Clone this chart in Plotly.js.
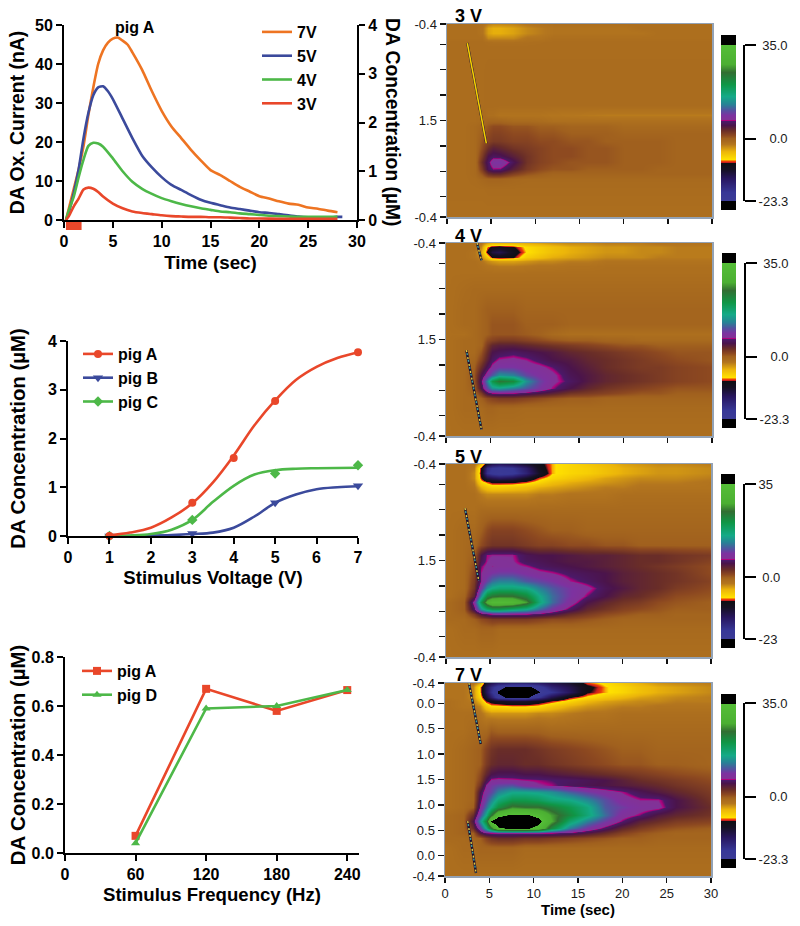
<!DOCTYPE html>
<html><head><meta charset="utf-8">
<script src="https://cdn.plot.ly/plotly-3.0.1.min.js"></script>
<style>html,body{margin:0;padding:0;background:#fff}</style></head>
<body><div id="chart" style="width:800px;height:926px"></div>
<script>
// ---- Time-course traces (top left panel)
const time7V=[0.2,0.5,1,1.5,2,2.5,3,3.5,4,4.5,5,5.5,6,6.5,7,8,9,10,11,12,13,14,15,16,17,18,19,20,21,22,23,24,25,26,27,28];
const current7V=[0,3,8,13,19,27,34,40,43.5,45.5,46.5,46.8,46,45,43,38.5,33,28,24,21,18,15.3,12.8,11.5,10,8.5,7.3,6.1,5.5,4.8,4.2,3.9,3.2,2.9,2.4,2];
const time5V=[0.2,0.5,1,1.5,2,2.5,3,3.5,4,4.5,5,6,7,8,9,10,11,12,13,14,15,16,17,18,19,20,21,22,23,24,25,26,27,28,28.5];
const current5V=[0,2,7,13,21,27.5,32,34,34.3,33,31,26,21,16.5,13.5,11,9,7.7,6.4,5.2,4.4,3.8,3.2,2.8,2.4,2,1.8,1.5,1.2,0.9,0.7,0.6,0.6,0.8,0.8];
const time4V=[0.2,0.5,1,1.5,2,2.5,3,3.5,4,5,6,7,8,9,10,11,12,13,14,15,16,17,18,19,20,21,22,23,24,25,26,27,28];
const current4V=[0,2.5,6,11,15.5,19,19.8,19.6,18.8,15.8,12.5,9.8,8,6.7,5.6,4.8,4.1,3.5,3,2.6,2.2,2,1.7,1.5,1.3,1.1,1,0.9,0.8,0.8,0.8,0.8,0.9];
const time3V=[0.2,0.5,1,1.5,2,2.5,3,3.5,4,5,6,7,8,9,10,11,12,13,14,15,16,17,18,19,20,22,24,26,28];
const current3V=[0,1,3.5,5.5,7.8,8.3,8,7.2,6,4.2,3,2.2,1.8,1.5,1.2,1,0.9,0.8,0.8,0.7,0.7,0.6,0.5,0.4,0.4,0.3,0.3,0.3,0.3];
const stimTime=[0.2,1.8];
const stimLevel=[0.5,0.5];

// ---- Stimulus voltage panel
const voltPointsA=[1,3,4,5,7]; const concPointsA=[0,0.68,1.6,2.77,3.77];
const voltPoints=[1,3,5,7];
const concPointsB=[0,0.05,0.68,1.03];
const concPointsC=[0,0.33,1.28,1.45];
const fitVoltA=[1,1.5,2,2.5,3,3.5,4,4.5,5,5.5,6,6.5,7];
const fitConcA=[0.01,0.07,0.17,0.38,0.67,1.1,1.65,2.27,2.78,3.2,3.47,3.65,3.77];
const fitVoltB=[1,2,2.5,3,3.5,4,4.5,5,5.5,6,6.5,7];
const fitConcB=[0,0.01,0.02,0.04,0.07,0.17,0.4,0.68,0.85,0.96,1,1.02];
const fitVoltC=[1,1.5,2,2.5,3,3.5,4,4.5,5,5.5,6,7];
const fitConcC=[0,0.01,0.04,0.13,0.33,0.7,1.03,1.26,1.35,1.38,1.39,1.4];

// ---- Stimulus frequency panel
const freqHz=[60,120,180,240];
const freqConcA=[0.07,0.67,0.58,0.665];
const freqConcD=[0.04,0.59,0.6,0.665];

// ---- Colour plots: time columns, sweep rows, current values
const plotTimes=[0.3,2,3.2,4,4.6,5.2,6,7.5,9,10.5,12,14,16,18,20,22,24,26,30];
const sweepRows=[0,0.08,0.18,0.28,0.36,0.45,0.6,0.9,1.3,1.6,1.8,1.9,2,2.15,2.3,2.45,2.6,2.72,2.85,2.95,3.05,3.25,3.8];
const sweepTicks=[0,0.4,0.9,1.4,1.9,2.4,2.9,3.4,3.8];
const sweepLabels=['-0.4','0.0','0.5','1.0','1.5','1.0','0.5','0.0','-0.4'];
const sparseLabels=['-0.4','','','','1.5','','','','-0.4'];
const timeTicks=[0,5,10,15,20,25,30];

const z3V=[
[-1.5,-1.5,-1.5,-1.7,-2.6,-3,-3,-2.8,-2.2,-1.8,-1.6,-1.5,-1.5,-1.5,-1.5,-1.5,-1.5,-1.5,-1.5],
[-1.5,-1.5,-1.5,-2,-4,-4.5,-4.5,-4,-3,-2.5,-2,-2,-2,-2,-2,-1.5,-1.5,-1.5,-1.5],
[-1.5,-1.5,-1.5,-2,-4,-4.5,-4.5,-4,-3,-2.5,-2,-2,-2,-2,-2,-2,-1.5,-1.5,-1.5],
[-1.5,-1.5,-1.5,-1.5,-3,-3,-3,-3,-2,-2,-1.5,-1.5,-1.5,-1.5,-1.5,-1.5,-1.5,-1.5,-1.5],
[-1.3,-1.3,-1.3,-1.3,-1.5,-1.6,-1.6,-1.6,-1.5,-1.4,-1.3,-1.3,-1.3,-1.3,-1.3,-1.3,-1.3,-1.3,-1.3],
[-1.3,-1.3,-1.3,-1.3,-1.3,-1.3,-1.3,-1.3,-1.3,-1.3,-1.3,-1.3,-1.3,-1.3,-1.3,-1.3,-1.3,-1.3,-1.3],
[-1.3,-1.3,-1.3,-1.3,-1.3,-1.3,-1.3,-1.3,-1.3,-1.3,-1.3,-1.3,-1.3,-1.3,-1.3,-1.3,-1.3,-1.3,-1.3],
[-1.3,-1.3,-1.3,-1.3,-1.2,-1.2,-1.2,-1.2,-1.2,-1.2,-1.2,-1.2,-1.2,-1.2,-1.2,-1.2,-1.2,-1.2,-1.2],
[-1.3,-1.3,-1.3,-1.3,-1.2,-1.2,-1.2,-1.2,-1.2,-1.2,-1.2,-1.2,-1.2,-1.2,-1.2,-1.2,-1.2,-1.2,-1.2],
[-1.3,-1.3,-1.3,-1.3,-1.2,-1.2,-1.2,-1.2,-1.2,-1.2,-1.2,-1.2,-1.2,-1.2,-1.2,-1.2,-1.2,-1.2,-1.2],
[-1.3,-1.3,-1.3,-1,-1.5,-1.5,-2,-2,-2,-2,-2.2,-2.3,-2.4,-2.5,-2.5,-2.5,-2.5,-2.5,-2.5],
[-1.3,-1.3,-1.3,-1,-0.5,-0.5,-0.5,-1,-1,-1.2,-1.5,-1.5,-1.5,-1.5,-1.5,-1.5,-1.5,-1.5,-1.5],
[-1.3,-1.3,-1,-0.5,0.5,1,1,0.5,0.5,0,0,-0.5,-0.5,-0.5,-1,-1,-1,-1,-1],
[-1.3,-1.3,-1,0,1,1.5,1.5,1,1,0.5,0.5,0,0,0,-0.5,-0.5,-0.5,-0.5,-0.5],
[-1.3,-1.3,-1,0.5,1.5,2,2,1.5,1.5,1,1,0.5,0.5,0,0,0,0,-0.5,-0.5],
[-1.3,-1.3,-1,1,3,4,3.5,2.5,2,1.5,1,1,0.5,0.5,0,0,0,-0.5,-0.5],
[-1.3,-1.3,-1,2,5,5.8,5.5,4,2.5,1.5,1,1,0.5,0.5,0,0,0,-0.5,-0.5],
[-1.3,-1.3,-1,3,6,8.5,9,5.5,2.5,1.5,1,0.5,0.5,0.5,0,0,0,-0.5,-0.5],
[-1.3,-1.3,-1,2,5.5,6.6,6.5,4,2,1,0.5,0.5,0,0,0,0,-0.5,-0.5,-0.5],
[-1.3,-1.3,-1,0.5,2.5,3,3,1.5,0.5,0,-0.5,-0.5,-0.5,-0.5,-0.5,-0.5,-0.5,-0.5,-0.5],
[-1.3,-1.3,-1.2,-0.8,-0.5,-0.5,-0.5,-0.8,-1,-1,-1,-1,-1,-1,-1,-1,-1,-1,-1],
[-1.3,-1.3,-1.3,-1.3,-1.2,-1.2,-1.2,-1.2,-1.2,-1.2,-1.2,-1.2,-1.2,-1.2,-1.2,-1.2,-1.2,-1.2,-1.2],
[-1.5,-1.5,-1.5,-1.5,-1.5,-1.5,-1.5,-1.5,-1.5,-1.5,-1.5,-1.5,-1.5,-1.5,-1.5,-1.5,-1.5,-1.5,-1.5]];

const z4V=[
[-1.5,-1.5,-1.5,-2,-4,-5,-5,-5,-4.5,-4,-3.5,-3,-3,-2.5,-2.5,-2.5,-2,-2,-2],
[-1.5,-1.5,-1.5,-3,-8,-10,-10.5,-9.4,-7.5,-6.5,-5.5,-4.5,-4,-3.5,-3.5,-3,-3,-2.5,-2.5],
[-1.5,-1.5,-2,-4,-9.5,-13,-14,-10.5,-7.8,-6.5,-5.5,-4.5,-4,-3.5,-3.5,-3,-3,-2.5,-2.5],
[-1.5,-1.5,-2,-3,-6,-9.5,-10,-9.4,-6.5,-5.5,-4.5,-4,-3.5,-3,-3,-3,-2.5,-2.5,-2.5],
[-1.5,-1.5,-1.5,-2,-3,-3.5,-4,-4,-3.5,-3,-3,-2.5,-2.5,-2,-2,-2,-2,-2,-2],
[-1.5,-1.5,-1.5,-1.7,-2,-2.2,-2.4,-2.4,-2.2,-2,-2,-1.8,-1.8,-1.6,-1.6,-1.6,-1.6,-1.6,-1.6],
[-1.5,-1.5,-1.5,-1.5,-1.5,-1.5,-1.5,-1.5,-1.5,-1.5,-1.5,-1.5,-1.5,-1.5,-1.5,-1.5,-1.5,-1.5,-1.5],
[-1.5,-1.2,-1,-1,-1,-1,-1,-1,-1,-1,-1,-1,-1,-1,-1,-1,-1,-1,-1],
[-1.5,-1,-1,-0.5,0,0,0,0,-0.5,-0.5,-0.5,-0.5,-0.5,-0.5,-0.5,-0.5,-0.5,-0.5,-0.5],
[-1.5,-1,-1,-0.5,0,0.5,0.5,0.5,0,0,0,-0.5,-0.5,-0.5,-0.5,-0.5,-0.5,-0.5,-0.5],
[-1.5,-1.5,-1,-0.5,0,0.5,0.5,0.5,0.2,-0.2,-1,-1.5,-1.5,-1.5,-1.5,-1.5,-1.5,-1.5,-1.5],
[-1.5,-1,-1,-0.5,1,1.5,2,2,1.5,1,0.5,0,0,-0.5,-0.5,-1,-1,-1,-1],
[-1.5,-1,-1,-0.5,2,3.5,4,4,3.5,3,2.5,2,1.5,1,0.5,0.5,0,0,0],
[-1.5,-1,-1,0.5,3,5,5.5,6,5.5,5,4.5,3.5,3,2.5,2,1.5,1,0.5,0.5],
[-1.5,-1,-0.5,1.5,4,6,7.2,7.5,7,6,5,4.5,3.5,3,2.5,2,1.5,1,0.5],
[-1.5,-1,0,3,5.5,7.5,9,9,8,7.5,6.5,5,4,3,2.5,2,2,1.5,1],
[-1.5,-1,0.5,5,8,11,14,13,10,8.5,7.5,5.5,4.5,3.5,3,2.5,2,1.5,1],
[-1.5,-1,0.5,6,13,20,24,22,14,10,7.5,6,4.5,3.5,3,2.5,2,1.5,1],
[-1.5,-1,0,5,10,14,15,13,11,9,6.8,5,3.5,2.5,2,1.5,1,0.5,0.5],
[-1.5,-1,-0.5,2,5.5,6.8,7,6.9,6,5,4,2.5,2,1.5,1,0.5,0.5,0,0],
[-1.5,-1,-1,0,1,1.5,2,2,1.5,1,0.5,0,0,-0.5,-0.5,-0.5,-0.5,-0.5,-0.5],
[-1.5,-1,-1,-1,-0.5,-0.5,-0.8,-0.8,-1,-1,-1,-1,-1,-1,-1,-1,-1,-1,-1],
[-1.5,-1.5,-1.5,-1.5,-1.5,-1.5,-1.5,-1.5,-1.5,-1.5,-1.5,-1.5,-1.5,-1.5,-1.5,-1.5,-1.5,-1.5,-1.5]];

const z5V=[
[-1.5,-1.5,-2,-5,-12,-14,-15,-14,-12,-10,-8,-7,-6,-5,-4,-3.5,-3,-3,-2.5],
[-1.5,-1.5,-2.5,-9.5,-18,-20,-21,-20,-16,-10.5,-8,-7,-6.5,-5.5,-4.5,-4,-3.5,-3.5,-3],
[-1.5,-1.5,-3,-10,-19,-21,-22,-21,-17,-11.5,-8,-7,-6.5,-5.5,-4.5,-4,-3.5,-3.5,-3],
[-1.5,-1.5,-3,-9,-13,-14,-15,-14,-11.5,-8.5,-7,-6,-5,-4,-3.5,-3,-3,-3,-2.5],
[-1.5,-1.5,-2.5,-7,-8.5,-9.5,-9.5,-9.5,-8.5,-7,-5.5,-4.5,-4,-3.5,-3,-2.5,-2.5,-2.5,-2],
[-1.5,-1.5,-2,-4.5,-6,-6.5,-6.5,-6,-5.5,-4.5,-4,-3.5,-3,-2.5,-2.5,-2,-2,-2,-2],
[-1.5,-1.5,-1.5,-2.5,-3,-3,-3,-3,-3,-2.5,-2.5,-2,-2,-2,-1.5,-1.5,-1.5,-1.5,-1.5],
[-1.5,-1.5,-1.5,-1,-1,-1,-1,-1,-1,-1,-1,-1,-1,-1,-1,-1,-1,-1,-1],
[-1.5,-1,-1,0,1,1.5,1.5,1.5,1,0.5,0,0,-0.5,-0.5,-0.5,-0.5,-0.5,-0.5,-0.5],
[-1.5,-1,-0.5,1,2,2.5,2.5,2.5,2,1.5,1.5,1,1,0.5,0.5,0,0,0,0],
[-1.5,-1,0,5,6.8,7,7,7,5.5,5,5,4.5,4,4,3.5,3,3,2.5,2],
[-1.5,-1,0.5,5.5,7,7.5,7.5,7.2,5.8,5.5,5,4.5,4.5,4,3.5,3,3,2.5,1.5],
[-1.5,-1,1,6.5,7.5,7,7.5,7.5,6.9,6,5.5,5,4.5,4,3.5,3,2.5,2,1],
[-1.5,-1,1.5,7,8,9,9.5,9.5,8.5,7.5,7,6,5.5,5,4,3.5,3,2.5,1],
[-1.5,-1,2,7,10,12,13,13,11,10,9,7,6,5,4,3.5,3,2.5,1.5],
[-1.5,-1,2.5,9,14,16,17,17,16,13,11,9,7.5,5.5,4.5,3.5,3,2,1],
[-1.5,-0.5,4,14,22,24,25,25,22,16,12,9,6.5,5,3.5,3,2,1,0.5],
[-1,0,8,20,29,33,33,32,27,17,12,8,5,3.5,2.5,2,1,0.5,0],
[-1,0,6,14,18,20,20,18,16,12,9,6,3.5,2.5,1.5,1,0.5,0,0],
[-1,-0.5,2,5,6.5,7,7.2,7,6.9,6,5,3,2,1,0.5,0,0,-0.5,-0.5],
[-1,-1,0,1,1.5,2,2,2,2,1.5,1,1,0.5,0,-0.5,-0.5,-0.5,-0.5,-0.5],
[-1.5,-1,-1,-0.5,-0.5,-0.5,-1,-1,-1,-1,-1,-1,-1,-1,-1,-1,-1,-1,-1],
[-1.5,-1.5,-1.5,-1.5,-1.5,-1.5,-1.5,-1.5,-1.5,-1.5,-1.5,-1.5,-1.5,-1.5,-1.5,-1.5,-1.5,-1.5,-1.5]];

const z7V=[
[-2,-2,-2,-4,-12,-14,-16,-17,-17,-16,-14,-12,-8.5,-7.5,-6,-4.5,-3.5,-3,-2.5],
[-2,-2,-3,-8,-14,-18,-22,-25,-25,-22,-17,-14,-10,-8,-7,-5.5,-4.5,-4,-3],
[-2,-2,-3,-8,-14,-19,-24,-27,-27,-24,-20,-15,-9.5,-8,-7,-5.5,-4.5,-4,-3],
[-2,-2,-3,-7,-12,-16,-22,-25,-25,-20,-14,-9.5,-7.5,-6,-5,-4,-3.5,-3,-2.5],
[-1.5,-2,-2.5,-5,-9,-10,-11,-12,-12,-10.5,-9,-7,-5,-4,-3.5,-3,-3,-2.5,-2.5],
[-1.5,-2,-2,-3,-6,-7.5,-7.5,-8,-8,-7.5,-6,-4.5,-3.5,-3,-2.5,-2.5,-2,-2,-2],
[-1.5,-1.5,-1.5,-2,-3,-3.5,-3.5,-3.5,-3.5,-3,-3,-2.5,-2,-2,-1.5,-1.5,-1.5,-1.5,-1.5],
[-1.5,-1.5,-1,-1,-1,0,-0.5,-0.5,-0.5,-0.5,-1,-1,-1,-1,-1,-1,-1,-1,-1],
[-1.5,-1,-0.5,0,1.5,2.5,3,3,3,2.5,2,1.5,1,0.5,0,0,-0.5,-0.5,-0.5],
[-1.5,-1,-0.5,0,2,3,3.5,3.5,3,3,2.5,2,1.5,1,0.5,0.5,0,0,-0.5],
[-1.5,-1,-0.5,1,3.5,5,5.5,5.5,5,5,4.5,4,3.5,3,2.5,2,1.5,1,0.5],
[-1.5,-1,-0.5,1.5,5,7.2,7.4,7.2,6.9,6.7,6.4,6,5.5,5,4,3,2.5,2,1],
[-1.5,-1,-0.5,2.5,7,9,10,10.5,8.2,7.2,6.8,5.8,5.3,4.8,4.3,3.8,3.2,2.5,1.5],
[-1.5,-1,-0.5,5,8.5,10,13,15.5,15.5,15,14,11.5,9.5,8,6.9,5.5,4.5,3.5,2],
[-1.5,-1,-0.5,6,10,13,17,20,20,19,17,16,13.5,10.5,8,7,7,5,2.5],
[-1.5,-1,0,7.2,12,16,21,26,25,25,23,20,16.5,11,9.5,8,7.5,5,3],
[-1,-0.5,3,10,16,24,33,36,36,33,27,22,17,12,8,6.5,4.5,3.5,2.5],
[-1,-0.5,5,14,22,36,40,40,40,37,28,18,13,9.5,6.5,4,3,2,1.5],
[-1,-0.5,3,9,16,24,34,36,36,33,22,13,9,6,3.5,2,1,0.5,0],
[-1,-0.5,0,4.5,6.5,6.8,7,7,7,7,6.8,6,4.5,3,1.5,0.5,0,-0.5,-0.5],
[-1,-1,-0.5,0,1.5,2.5,3,3,2.5,2.5,2,1.5,1,0.5,0,0,-0.5,-0.5,-0.5],
[-1.5,-1,-1,-0.5,-0.5,-0.5,-0.5,-0.5,-1,-1,-1,-1,-1,-1,-1,-1,-1,-1,-1],
[-1.5,-1.5,-1.5,-1.5,-1.5,-1.5,-1.5,-1.5,-1.5,-1.5,-1.5,-1.5,-1.5,-1.5,-1.5,-1.5,-1.5,-1.5,-1.5]];

// Stimulus artefact streaks on the colour plots
const streak3T=[2.3,4.45]; const streak3S=[0.375,2.35];
const streak4T=[3.5,4.0]; const streak4S=[0,0.34];
const streak4bT=[2.3,4.0]; const streak4bS=[2.11,3.67];
const streak5T=[2.15,3.7]; const streak5S=[0.87,2.29];
const streak7T=[2.7,4.03]; const streak7S=[0,1.2];
const streak7bT=[2.56,3.5]; const streak7bS=[2.72,3.74];

// Colour key levels and colours
const keyLevels=[-26.8,-23.5,-23.4,-20,-15,-11.3,-9.3,-8.8,-8.4,-7.8,-4.7,-2.3,-1,0,1.1,3,5,6.4,6.8,7.1,8.8,10.6,13,15.7,20.4,24.8,27.7,34.8,35,38.6];
const keyColors=['#000000','#000000','#3c3c96','#373796','#28165f','#161023','#0f0f14','#c81e1e','#eb3c0a','#ffe100','#ebb40a','#b4761e','#a86a1e','#a0601e','#8c4820','#692d28','#4b144b','#4b1969','#af007d','#823296','#7d32a0','#5550a0','#288296','#14aa87','#0f9646','#326e32','#4baf32','#55be37','#000000','#000000'];

const INK='#000';
const ORANGE='#EE7422', BLUE='#3B4A9C', GREEN='#4DB848', RED='#E9472A';
const BOLD='"Liberation Sans", Arial, sans-serif';
const W=800,H=926;
const xDom=(a,b)=>[a/W,b/W];
const yDom=(t,b)=>[1-b/H,1-t/H];
const traces=[]; const layout={width:W,height:H,margin:{l:0,r:0,t:0,b:0},paper_bgcolor:'#fff',plot_bgcolor:'rgba(0,0,0,0)',showlegend:true,annotations:[],font:{family:BOLD,color:INK}};
let axisN=0;
function pair(xa,ya){axisN++;const n=axisN===1?'':axisN;layout['xaxis'+n]=Object.assign({anchor:'y'+n},xa);layout['yaxis'+n]=Object.assign({anchor:'x'+n},ya);return {xaxis:'x'+n,yaxis:'y'+n,n};}
const tickFont={family:BOLD,size:16,color:INK,weight:700};
const fontOf=s=>({family:BOLD,size:s,color:INK,weight:700});
const baseAxis={showgrid:false,zeroline:false,showline:true,linecolor:INK,linewidth:2,ticks:'outside',tickcolor:INK,tickwidth:2,ticklen:6,tickfont:tickFont};
function legendCfg(x,y,gap){return {x:x/W,y:1-y/H,xanchor:'left',yanchor:'top',bgcolor:'rgba(0,0,0,0)',font:fontOf(16),traceorder:'normal',tracegroupgap:gap,itemclick:false,itemdoubleclick:false};}

// Panel 1
const a1=pair(Object.assign({},baseAxis,{domain:xDom(64,357),range:[0,30],tickvals:[0,5,10,15,20,25,30],title:{text:'Time (sec)',font:fontOf(18.8),standoff:7}}),
 Object.assign({},baseAxis,{domain:yDom(25,220),range:[0,50],tickvals:[0,10,20,30,40,50],title:{text:'DA Ox. Current (nA)',font:fontOf(19.4),standoff:5}}));
function line(x,y,name,color,axes,group,legend){traces.push({type:'scatter',mode:'lines',x,y,name,line:{color,width:2.6,shape:'spline',smoothing:0.6},cliponaxis:false,xaxis:axes.xaxis,yaxis:axes.yaxis,legendgroup:group,legend,showlegend:true,hoverinfo:'skip'});}
line(time7V,current7V,'7V',ORANGE,a1,'a','legend');
line(time5V,current5V,'5V',BLUE,a1,'b','legend');
line(time4V,current4V,'4V',GREEN,a1,'c','legend');
line(time3V,current3V,'3V',RED,a1,'d','legend');
const stim=pair({domain:xDom(64,357),range:[0,30],visible:false},{domain:yDom(222,230),range:[0,1],visible:false});
traces.push({type:'scatter',mode:'lines',x:stimTime,y:stimLevel,line:{color:RED,width:9},xaxis:stim.xaxis,yaxis:stim.yaxis,showlegend:false,hoverinfo:'skip'});
layout.legend=legendCfg(257,15,2);
layout.annotations.push({xref:'paper',yref:'paper',x:134.5/W,y:1-27/H,xanchor:'center',yanchor:'middle',text:'pig A',showarrow:false,font:fontOf(16)});
layout.annotations.push({xref:'paper',yref:'paper',x:393/W,y:1-122/H,xanchor:'center',yanchor:'middle',text:'DA Concentration (µM)',textangle:90,showarrow:false,font:fontOf(19.3)});

// Panel 2
const a2=pair(Object.assign({},baseAxis,{domain:xDom(68,358),range:[0,7],tickvals:[0,1,2,3,4,5,6,7],title:{text:'Stimulus Voltage (V)',font:fontOf(18.6),standoff:6}}),
 Object.assign({},baseAxis,{domain:yDom(341,536),range:[0,4],tickvals:[0,1,2,3,4],title:{text:'DA Concentration (µM)',font:fontOf(20.4),standoff:17}}));
function fit(x,y,color,axes){traces.push({type:'scatter',mode:'lines',x,y,line:{color,width:2.6,shape:'spline'},cliponaxis:false,xaxis:axes.xaxis,yaxis:axes.yaxis,showlegend:false,hoverinfo:'skip'});}
function pts(x,y,color,sym,size,axes){traces.push({type:'scatter',mode:'markers',x,y,marker:{color,symbol:sym,size},cliponaxis:false,xaxis:axes.xaxis,yaxis:axes.yaxis,showlegend:false,hoverinfo:'skip'});}
function key(name,color,sym,size,axes,group,legend){traces.push({type:'scatter',mode:'lines+markers',x:[null],y:[null],name,line:{color,width:2.6},marker:{color,symbol:sym,size},xaxis:axes.xaxis,yaxis:axes.yaxis,legendgroup:group,legend,showlegend:true,hoverinfo:'skip'});}
fit(fitVoltB,fitConcB,BLUE,a2);pts(voltPoints,concPointsB,BLUE,'triangle-down',9,a2);
fit(fitVoltC,fitConcC,GREEN,a2);pts(voltPoints,concPointsC,GREEN,'diamond',8,a2);
fit(fitVoltA,fitConcA,RED,a2);pts(voltPointsA,concPointsA,RED,'circle',8,a2);
key('pig A',RED,'circle',8,a2,'e','legend2');key('pig B',BLUE,'triangle-down',9,a2,'f','legend2');key('pig C',GREEN,'diamond',8,a2,'g','legend2');
layout.legend2=legendCfg(78,337,2);

// Panel 3
const a3=pair(Object.assign({},baseAxis,{domain:xDom(65,359),range:[0,250],tickvals:[0,60,120,180,240],title:{text:'Stimulus Frequency (Hz)',font:fontOf(18.6),standoff:6}}),
 Object.assign({},baseAxis,{domain:yDom(657,853),range:[0,0.8],tickvals:[0,0.2,0.4,0.6,0.8],tickformat:'.1f',title:{text:'DA Concentration (µM)',font:fontOf(20.4),standoff:0}}));
traces.push({type:'scatter',mode:'lines+markers',x:freqHz,y:freqConcA,name:'pig A',line:{color:RED,width:2.6},marker:{color:RED,symbol:'square',size:8},cliponaxis:false,xaxis:a3.xaxis,yaxis:a3.yaxis,legend:'legend3',legendgroup:'h',hoverinfo:'skip'});
traces.push({type:'scatter',mode:'lines+markers',x:freqHz,y:freqConcD,name:'pig D',line:{color:GREEN,width:2.6},marker:{color:GREEN,symbol:'triangle-up',size:8},cliponaxis:false,xaxis:a3.xaxis,yaxis:a3.yaxis,legend:'legend3',legendgroup:'i',hoverinfo:'skip'});
layout.legend3=legendCfg(77,654,2);

// Right axis of panel 1 (shares the x axis of panel 1 by overlay)
axisN++;const rn=axisN;
layout['yaxis'+rn]=Object.assign({},baseAxis,{domain:yDom(25,220),range:[0,4],tickvals:[0,1,2,3,4],side:'right',overlaying:'y',anchor:'x'});
traces.push({type:'scatter',mode:'markers',x:[0,30],y:[0,4],marker:{opacity:0,size:1},xaxis:'x',yaxis:'y'+rn,showlegend:false,hoverinfo:'skip'});

// Colour plots
const zMin=keyLevels[0],zMax=keyLevels[keyLevels.length-1];
const scale=keyLevels.map((v,i)=>[(v-zMin)/(zMax-zMin),keyColors[i]]);
const plainTick={family:BOLD,size:13,color:'#1a1a1a'};
const panels=[
 {label:'3 V',labelY:16,z:z3V,x:[447,712],y:[24,217],bar:[721,736,35,210],brk:[743,45,201],ticks:['\u00a035.0','\u00a0\u00a0\u00a00.0','-23.3'],streaks:[[streak3T,streak3S,'yellow']],sparse:true},
 {label:'4 V',labelY:236,z:z4V,x:[446,712],y:[243,436],bar:[722,736,253,428],brk:[744,263,419],ticks:['\u00a035.0','\u00a0\u00a0\u00a00.0','-23.3'],streaks:[[streak4T,streak4S,'noise'],[streak4bT,streak4bS,'noise']],sparse:true},
 {label:'5 V',labelY:457,z:z5V,x:[446,711],y:[464,657],bar:[721,735,474,648],brk:[743,484,639],ticks:['35','\u00a00.0','-23'],streaks:[[streak5T,streak5S,'noise']],sparse:true},
 {label:'7 V',labelY:675,z:z7V,x:[445,711],y:[683,876],bar:[721,736,694,868],brk:[743,703,859],ticks:['\u00a035.0','\u00a0\u00a0\u00a00.0','-23.3'],streaks:[[streak7T,streak7S,'noise'],[streak7bT,streak7bS,'noise']],sparse:false}
];
const FRAME='#93a2b5';
panels.forEach(p=>{
 const ax=pair({domain:xDom(p.x[0],p.x[1]),range:[0,30],showgrid:false,zeroline:false,showline:true,mirror:true,linecolor:FRAME,linewidth:1.5,ticks:'outside',tickcolor:'#111',tickwidth:1.5,ticklen:5,tickvals:timeTicks,showticklabels:!p.sparse,tickfont:plainTick,
   title:p.sparse?undefined:{text:'Time (sec)',font:fontOf(15),standoff:4}},
  {domain:yDom(p.y[0],p.y[1]),range:[3.8,0],showgrid:false,zeroline:false,showline:true,mirror:true,linecolor:FRAME,linewidth:1.5,ticks:'outside',tickcolor:'#111',tickwidth:1.5,ticklen:6,tickvals:sweepTicks,ticktext:p.sparse?sparseLabels:sweepLabels,tickfont:plainTick});
 traces.push({type:'heatmap',x:plotTimes,y:sweepRows,z:p.z,zmin:zMin,zmax:zMax,colorscale:scale,zsmooth:'best',showscale:false,xaxis:ax.xaxis,yaxis:ax.yaxis,hoverinfo:'skip'});
 p.streaks.forEach(s=>{
  const common={type:'scatter',mode:'lines',x:s[0],y:s[1],xaxis:ax.xaxis,yaxis:ax.yaxis,showlegend:false,hoverinfo:'skip'};
  traces.push(Object.assign({},common,{line:{color:'#1c1030',width:2.4}}));
  if(s[2]==='yellow'){traces.push(Object.assign({},common,{line:{color:'#f5d000',width:1.6}}));}
  else{traces.push(Object.assign({},common,{line:{color:'#e0cc40',width:1.4,dash:'2px,5px'}}));
       traces.push(Object.assign({},common,{line:{color:'#3f9fa0',width:1.4,dash:'0px,3px,2px,2px'}}));}
 });
 const bar=pair({domain:xDom(p.bar[0],p.bar[1]),range:[0,1],visible:false},
   {domain:yDom(p.bar[2],p.bar[3]),range:[zMin,zMax],visible:false});
 traces.push({type:'heatmap',x:[0,1],y:keyLevels,z:keyLevels.map(v=>[v,v]),zmin:zMin,zmax:zMax,colorscale:scale,zsmooth:'best',showscale:false,xaxis:bar.xaxis,yaxis:bar.yaxis,hoverinfo:'skip'});
 const brk=pair({domain:xDom(p.brk[0]-10,p.brk[0]),range:[0,1],visible:false},
   {domain:yDom(p.brk[1],p.brk[2]),range:[-23.3,35],side:'right',showgrid:false,zeroline:false,showline:true,linecolor:INK,linewidth:2,ticks:'outside',tickcolor:INK,tickwidth:2,ticklen:11,tickvals:[35,0,-23.3],ticktext:p.ticks,tickfont:plainTick});
 traces.push({type:'scatter',mode:'markers',x:[0,1],y:[-23.3,35],marker:{opacity:0,size:1},xaxis:brk.xaxis,yaxis:brk.yaxis,showlegend:false,hoverinfo:'skip'});
 layout.annotations.push({xref:'paper',yref:'paper',x:453/W,y:1-p.labelY/H,xanchor:'left',yanchor:'middle',text:p.label,showarrow:false,font:fontOf(18)});
});
Plotly.newPlot('chart',traces,layout,{displayModeBar:false,staticPlot:true});
</script></body></html>
